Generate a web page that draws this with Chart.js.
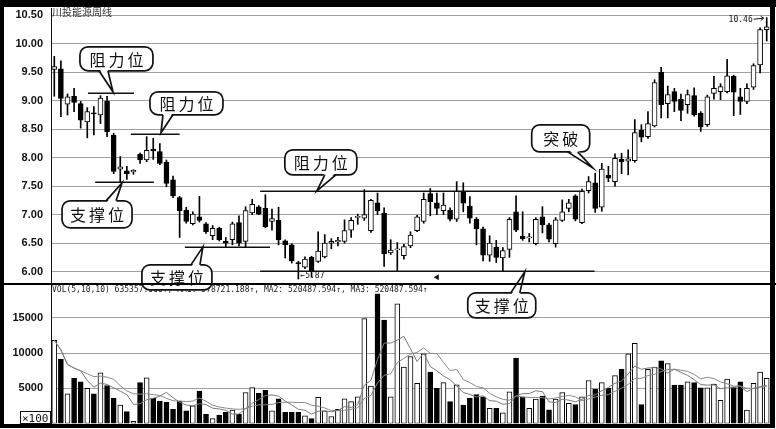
<!DOCTYPE html>
<html>
<head>
<meta charset="utf-8">
<script src="https://cdn.jsdelivr.net/npm/chart.js@4.4.1/dist/chart.umd.min.js"></script>
<style>
  html, body { margin: 0; padding: 0; background: #fff; }
  #wrap { position: relative; width: 776px; height: 429px; }
</style>
</head>
<body>
<div id="wrap"><canvas id="chart" width="776" height="429"></canvas></div>
<script>
// weekly candles
const open = [9.55, 9.56, 8.94, 9.08, 8.95, 8.63, 8.79, 8.75, 8.99, 8.40,
  7.80, 7.77, 7.75, 8.06, 7.96, 8.15, 8.11, 7.92, 7.61, 7.30,
  7.08, 6.84, 6.96, 6.84, 6.63, 6.76, 6.53, 6.56, 6.86, 6.53,
  7.03, 7.14, 7.11, 6.88, 6.90, 6.54, 6.47, 6.16, 6.08, 6.25,
  6.18, 6.26, 6.50, 6.52, 6.53, 6.73, 6.95, 6.94, 6.72, 7.21,
  7.03, 6.33, 6.38, 6.28, 6.45, 6.72, 6.88, 7.37, 7.21, 7.07,
  7.08, 6.92, 7.41, 7.15, 6.92, 6.75, 6.29, 6.43, 6.24, 6.39,
  7.05, 6.62, 6.59, 6.49, 6.96, 6.82, 6.49, 6.90, 7.11, 7.33,
  6.86, 7.42, 7.56, 7.13, 7.69, 7.58, 7.97, 7.94, 7.95, 8.48,
  8.37, 8.56, 9.50, 8.95, 9.16, 9.03, 8.93, 9.09, 8.78, 8.58,
  9.13, 9.16, 9.16, 9.43, 9.07, 8.99, 9.24, 9.63, 10.25];
const high = [9.78, 9.70, 9.12, 9.22, 8.99, 8.88, 8.90, 9.09, 9.08, 8.43,
  8.02, 7.85, 7.79, 8.08, 8.37, 8.34, 8.25, 7.96, 7.68, 7.32,
  7.13, 7.05, 7.32, 6.86, 6.81, 6.78, 6.60, 6.87, 6.98, 7.14,
  7.27, 7.16, 7.35, 7.10, 7.13, 6.56, 6.49, 6.18, 6.26, 6.27,
  6.70, 6.65, 6.58, 6.60, 6.91, 6.95, 7.01, 7.44, 7.27, 7.38,
  7.12, 6.56, 6.51, 6.48, 6.70, 6.99, 7.38, 7.46, 7.38, 7.38,
  7.12, 7.58, 7.56, 7.32, 6.95, 6.78, 6.63, 6.55, 6.42, 6.95,
  7.33, 7.05, 6.67, 6.95, 7.14, 6.85, 6.95, 7.26, 7.27, 7.35,
  7.45, 7.67, 7.73, 7.90, 7.85, 8.07, 8.08, 8.14, 8.67, 8.58,
  8.81, 9.37, 9.59, 9.26, 9.22, 9.12, 9.19, 9.23, 8.81, 9.10,
  9.43, 9.30, 9.73, 9.45, 9.22, 9.30, 9.65, 10.28, 10.46];
const low = [9.08, 8.72, 8.75, 8.81, 8.52, 8.35, 8.40, 8.60, 8.37, 7.72,
  7.58, 7.62, 7.71, 7.90, 7.93, 7.97, 7.88, 7.49, 7.30, 6.60,
  6.85, 6.82, 6.87, 6.67, 6.56, 6.54, 6.43, 6.47, 6.45, 6.42,
  7.00, 7.00, 6.77, 6.73, 6.47, 6.24, 6.15, 5.87, 6.05, 5.90,
  6.16, 6.24, 6.40, 6.45, 6.50, 6.60, 6.83, 6.90, 6.69, 7.00,
  6.09, 6.30, 6.02, 6.22, 6.42, 6.70, 6.85, 6.98, 7.00, 7.00,
  6.89, 6.88, 7.05, 6.85, 6.47, 6.19, 6.18, 6.16, 6.01, 6.25,
  6.70, 6.55, 6.52, 6.47, 6.68, 6.52, 6.43, 6.88, 7.05, 6.89,
  6.84, 7.38, 7.04, 7.06, 7.58, 7.50, 7.72, 7.70, 7.92, 8.28,
  8.34, 8.54, 8.70, 8.70, 8.81, 8.65, 8.78, 8.73, 8.46, 8.55,
  9.03, 9.02, 9.14, 8.74, 8.76, 8.95, 9.20, 9.49, 10.05];
const close = [9.60, 9.04, 9.07, 8.97, 8.66, 8.81, 8.77, 9.05, 8.46, 7.76,
  7.84, 7.72, 7.78, 7.96, 8.13, 8.12, 7.90, 7.55, 7.33, 7.07,
  6.88, 7.01, 6.90, 6.70, 6.76, 6.56, 6.50, 6.84, 6.50, 7.07,
  7.18, 7.01, 6.79, 6.93, 6.56, 6.47, 6.19, 6.14, 6.22, 6.00,
  6.36, 6.50, 6.53, 6.55, 6.72, 6.90, 6.97, 7.00, 7.25, 7.07,
  6.31, 6.38, 6.40, 6.44, 6.64, 6.96, 7.27, 7.23, 7.11, 7.17,
  6.92, 7.41, 7.20, 6.94, 6.75, 6.29, 6.50, 6.25, 6.37, 6.92,
  6.73, 6.58, 6.61, 6.92, 6.82, 6.57, 6.91, 7.05, 7.21, 6.92,
  7.41, 7.58, 7.11, 7.80, 7.64, 7.99, 7.93, 7.98, 8.44, 8.36,
  8.60, 9.32, 8.93, 9.11, 8.99, 8.83, 9.11, 8.75, 8.54, 9.07,
  9.22, 9.25, 9.44, 9.15, 8.99, 9.22, 9.62, 10.25, 10.30];
// volume in units of 100 shares
const volume = [11800, 9100, 4200, 6400, 5900, 5000, 4200, 7200, 5400, 3600,
  2600, 1700, 300, 5800, 6500, 3600, 3200, 3000, 2000, 3200,
  1800, 2500, 4600, 1300, 700, 1200, 1600, 1900, 1300, 4400,
  5100, 4300, 4700, 1800, 3500, 1600, 1600, 1600, 1100, 700,
  3700, 1800, 1000, 2000, 3500, 3100, 3800, 14900, 5300, 18400,
  14700, 3800, 17000, 8000, 9500, 5700, 9900, 7300, 5000, 5800,
  3100, 5500, 2600, 3600, 4100, 3800, 2150, 2150, 1500, 4500,
  9300, 3800, 2150, 3470, 3900, 1950, 3470, 4400, 2850, 2700,
  3800, 6100, 4900, 5800, 5000, 6800, 7700, 9900, 11400, 2700,
  7700, 8000, 8900, 8500, 5450, 5450, 5900, 5800, 5050, 5050,
  5600, 3300, 6300, 5200, 5900, 1900, 5700, 7300, 6400];

const priceTicks = [6.00, 6.50, 7.00, 7.50, 8.00, 8.50, 9.00, 9.50, 10.00, 10.50];
const volumeTicks = [5000, 10000, 15000];
const weeks = close.map((_, i) => 'W' + (i + 1));

// support / resistance lines: [from week index, to week index, price]
const levels = [
  [5.1, 12.1, 9.14], [11.6, 19.0, 8.41], [6.2, 15.1, 7.58],
  [19.8, 32.7, 6.44], [31.2, 80.4, 7.41], [31.2, 81.9, 6.01]
];
// callouts: tip at [week index, price], box and tail base as pixel offsets from the tip
const callouts = [
  { text: '阻力位', at: [8.89, 9.158], box: [-33, 40, -45, -21], tail: [-14, -5] },
  { text: '阻力位', at: [16.17, 8.438], box: [-11, 62, -41, -18], tail: [2, 12] },
  { text: '支撑位', at: [10.27, 7.559], box: [-60, 10, 18, 45], tail: [-16, -6] },
  { text: '支撑位', at: [22.53, 6.434], box: [-61, 9, 18, 43], tail: [-12, -3] },
  { text: '阻力位', at: [39.8, 7.418], box: [-32, 40, -41, -16], tail: [8, 19] },
  { text: '支撑位', at: [71.32, 5.995], box: [-57, 11, 21, 46], tail: [-14, -5] },
  { text: '突破', at: [81.62, 7.822], box: [-61, -3, -43, -16], tail: [-25, -15] }
];

function movingAverage(values, n) {
  return values.map((_, i) => {
    const win = values.slice(Math.max(0, i - n + 1), i + 1);
    return win.reduce((a, b) => a + b, 0) / win.length;
  });
}

const isUp = close.map((c, i) => c >= open[i]);
const fillColors = isUp.map(up => up ? '#ffffff' : '#000000');

function drawCallout(ctx, chart, c) {
  const xs = chart.scales.x, ys = chart.scales.y;
  const tx = xs.getPixelForValue(c.at[0]), ty = ys.getPixelForValue(c.at[1]);
  const x0 = tx + c.box[0], x1 = tx + c.box[1], y0 = ty + c.box[2], y1 = ty + c.box[3];
  const below = c.box[2] > 0;
  const edge = below ? y0 : y1;
  const inward = below ? 2.5 : -2.5;
  const b0 = tx + c.tail[0], b1 = tx + c.tail[1];
  ctx.save();
  ctx.lineWidth = 1.7;
  ctx.strokeStyle = '#111';
  ctx.fillStyle = '#fff';
  ctx.beginPath();
  ctx.roundRect(x0, y0, x1 - x0, y1 - y0, 8);
  ctx.fill();
  ctx.stroke();
  ctx.beginPath();
  ctx.moveTo(b0, edge + inward);
  ctx.lineTo(tx, ty);
  ctx.lineTo(b1, edge + inward);
  ctx.closePath();
  ctx.fill();
  ctx.beginPath();
  ctx.moveTo(b0, edge);
  ctx.lineTo(tx, ty);
  ctx.lineTo(b1, edge);
  ctx.stroke();
  ctx.fillStyle = '#111';
  ctx.font = '16px "Noto Sans CJK SC"';
  ctx.textAlign = 'center';
  ctx.textBaseline = 'middle';
  const chars = [...c.text];
  const cx = (x0 + x1) / 2, cy = (y0 + y1) / 2 + 1;
  chars.forEach((ch, k) => ctx.fillText(ch, cx + (k - (chars.length - 1) / 2) * 19, cy));
  ctx.restore();
}

const overlay = {
  id: 'overlay',
  afterDatasetsDraw(chart) {
    const ctx = chart.ctx;
    const xs = chart.scales.x, ys = chart.scales.y;
    ctx.save();
    // level lines
    ctx.strokeStyle = '#111';
    ctx.lineWidth = 1.5;
    levels.forEach(([a, b, p]) => {
      const y = Math.round(ys.getPixelForValue(p)) + 0.25;
      ctx.beginPath();
      ctx.moveTo(xs.getPixelForValue(a), y);
      ctx.lineTo(xs.getPixelForValue(b), y);
      ctx.stroke();
    });
    // small marker under the lower line
    const mx = xs.getPixelForValue(57.98), my = ys.getPixelForValue(5.9);
    ctx.fillStyle = '#111';
    ctx.beginPath();
    ctx.moveTo(mx - 3, my); ctx.lineTo(mx + 2, my - 3); ctx.lineTo(mx + 2, my + 3);
    ctx.closePath(); ctx.fill();
    // low / high labels
    ctx.font = '8px "DejaVu Sans Mono"';
    ctx.textBaseline = 'alphabetic';
    ctx.textAlign = 'left';
    ctx.fillText('←5.87', xs.getPixelForValue(37) + 2, ys.getPixelForValue(5.87) - 1);
    const hx = xs.getPixelForValue(108), hy = ys.getPixelForValue(10.46);
    ctx.textAlign = 'right';
    ctx.fillText('10.46', hx - 14, hy + 4);
    ctx.lineWidth = 1;
    ctx.beginPath();
    ctx.moveTo(hx - 13, hy + 1.5); ctx.lineTo(hx - 3, hy + 0.5);
    ctx.moveTo(hx - 6, hy - 1.5); ctx.lineTo(hx - 3, hy + 0.5); ctx.lineTo(hx - 6, hy + 3);
    ctx.stroke();
    // titles
    ctx.textAlign = 'left';
    ctx.fillStyle = '#333';
    ctx.font = '10px "Noto Sans CJK SC"';
    ctx.fillText('川投能源周线', 52, 16);
    ctx.font = '8px "DejaVu Sans Mono"';
    ctx.fillStyle = '#222';
    ctx.fillText('VOL(5,10,10) 635357.000↑, MA1: 578721.188↑, MA2: 520487.594↑, MA3: 520487.594↑', 52, 292);
    ctx.restore();
    callouts.forEach(c => drawCallout(ctx, chart, c));
  },
  afterDraw(chart) {
    const ctx = chart.ctx;
    ctx.save();
    ctx.fillStyle = '#000';
    ctx.fillRect(0, 283, 776, 2);
    // unit box
    ctx.strokeStyle = '#111';
    ctx.lineWidth = 1;
    ctx.strokeRect(20.5, 411.5, 30, 12);
    ctx.fillStyle = '#111';
    ctx.font = '11px "DejaVu Sans Mono"';
    ctx.textAlign = 'left';
    ctx.fillText('×100', 22, 422);
    // outer frame
    ctx.fillStyle = '#000';
    ctx.fillRect(0, 0, 776, 7);
    ctx.fillRect(0, 0, 4, 428);
    ctx.fillRect(770, 0, 5, 428);
    ctx.fillRect(0, 424, 775, 4);
    ctx.restore();
  }
};

const axisFont = { family: '"Liberation Sans", Arial, sans-serif', size: 11, weight: 'bold' };
function fixWidth(scale) {
  scale.width = 51;
  scale.paddingTop = 0;
  scale.paddingBottom = 0;
}

new Chart(document.getElementById('chart'), {
  data: {
    labels: weeks,
    datasets: [
      {
        type: 'line', label: 'MA5', data: movingAverage(volume, 5), yAxisID: 'yv', order: 0,
        borderColor: '#7a7a7a', borderWidth: 1, pointRadius: 0, tension: 0
      },
      {
        type: 'line', label: 'MA10', data: movingAverage(volume, 10), yAxisID: 'yv', order: 0,
        borderColor: '#8a8a8a', borderWidth: 1, pointRadius: 0, tension: 0
      },
      {
        type: 'bar', label: 'body', yAxisID: 'y', order: 1, grouped: false,
        data: open.map((o, i) => [Math.min(o, close[i]), Math.max(o, close[i])]),
        backgroundColor: fillColors, borderColor: '#000', borderWidth: 1,
        borderSkipped: false, barThickness: 5
      },
      {
        type: 'bar', label: 'wick', yAxisID: 'y', order: 2, grouped: false,
        data: low.map((l, i) => [l, high[i]]),
        backgroundColor: '#000', borderWidth: 0, barThickness: 1
      },
      {
        type: 'bar', label: 'volume', yAxisID: 'yv', order: 3, grouped: false,
        data: volume,
        backgroundColor: fillColors, borderColor: '#000', borderWidth: 1,
        borderSkipped: false, barThickness: 5
      }
    ]
  },
  options: {
    responsive: false,
    animation: false,
    events: [],
    layout: { padding: { left: 0, top: 8, right: 6, bottom: 5.5 } },
    plugins: { legend: { display: false }, tooltip: { enabled: false } },
    scales: {
      x: { type: 'category', display: false, offset: true, grid: { display: false } },
      yv: {
        type: 'linear', position: 'left', stack: 'panes', stackWeight: 140.5,
        min: 0, max: 19950,
        afterBuildTicks: s => { s.ticks = volumeTicks.map(v => ({ value: v })); },
        afterFit: fixWidth,
        ticks: { font: axisFont, color: '#111', padding: 8, autoSkip: false, callback: v => String(v) },
        grid: { color: '#a0a0a0', lineWidth: 1, drawTicks: false },
        border: { display: true, color: '#111', width: 1 }
      },
      y: {
        type: 'linear', position: 'left', stack: 'panes', stackWeight: 275,
        min: 5.80, max: 10.63,
        afterBuildTicks: s => { s.ticks = priceTicks.map(v => ({ value: v })); },
        afterFit: fixWidth,
        ticks: { font: axisFont, color: '#111', padding: 8, autoSkip: false, callback: v => Number(v).toFixed(2) },
        grid: { color: '#a0a0a0', lineWidth: 1, drawTicks: false },
        border: { display: true, color: '#111', width: 1 }
      }
    }
  },
  plugins: [overlay]
});
</script>
</body>
</html>
